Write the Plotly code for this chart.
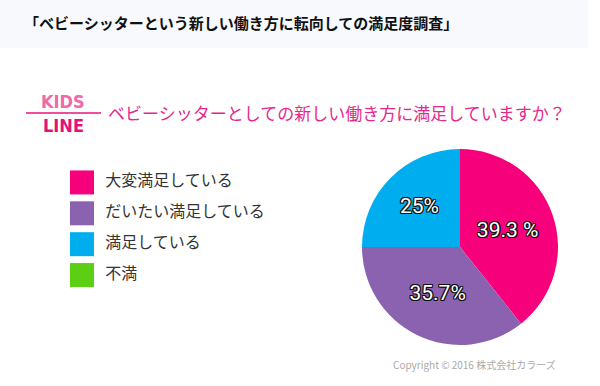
import plotly.graph_objects as go

W, H = 600, 386

title_text = "「ベビーシッターという新しい働き方に転向しての満足度調査」"
question_text = "ベビーシッターとしての新しい働き方に満足していますか？"
categories = ["大変満足している", "だいたい満足している", "満足している", "不満"]
values = [39.3, 35.7, 25.0, 0.0]
value_labels = ["39.3 %", "35.7%", "25%", ""]
colors = ["#f7007b", "#8a62b0", "#00aeef", "#5ccf14"]
copyright_text = "Copyright © 2016 株式会社カラーズ"

def px_x(x):
    return x / W

def px_y(y):
    return 1 - y / H

fig = go.Figure()

# Pie
fig.add_trace(go.Pie(
    labels=categories,
    values=values,
    text=value_labels,
    textinfo="text",
    sort=False,
    direction="clockwise",
    rotation=0,
    marker=dict(colors=colors, line=dict(width=0)),
    textposition="inside",
    insidetextorientation="horizontal",
    textfont=dict(
        family="Roboto, Noto Sans, sans-serif", size=21, color="white",
        shadow="1px 1px 0 #111, -1px -1px 0 #111, 1px -1px 0 #111, -1px 1px 0 #111, 0 1px 0 #111, 0 -1px 0 #111, 1px 0 0 #111, -1px 0 0 #111",
    ),
    domain=dict(x=[px_x(362), px_x(558)], y=[px_y(345), px_y(149)]),
    showlegend=False,
    hoverinfo="label+value",
))

# Legend drawn as a scatter trace
n = len(categories)
fig.add_trace(go.Scatter(
    x=[0] * n,
    y=list(range(n)),
    mode="markers+text",
    text=categories,
    texttemplate="\u00a0\u00a0%{text}",
    textposition="middle right",
    textfont=dict(family="Noto Sans CJK JP", size=16, color="#333333"),
    marker=dict(symbol="square", size=24, color=colors, line=dict(width=0)),
    xaxis="x", yaxis="y",
    showlegend=False,
    hoverinfo="skip",
    cliponaxis=False,
))

fig.update_layout(
    width=W, height=H,
    margin=dict(l=0, r=0, t=0, b=0),
    paper_bgcolor="white",
    plot_bgcolor="rgba(0,0,0,0)",
    xaxis=dict(domain=[0, 0.5], range=[-82, 218], visible=False, fixedrange=True),
    yaxis=dict(domain=[px_y(290.5), px_y(167)], range=[3.5, -0.5], visible=False, fixedrange=True),
    shapes=[
        dict(type="rect", xref="paper", yref="paper", x0=0, x1=px_x(588), y0=px_y(48), y1=1,
             fillcolor="#f7f9fc", line=dict(width=0), layer="below"),
        dict(type="line", xref="paper", yref="paper", x0=px_x(26), x1=px_x(101), y0=px_y(113), y1=px_y(113),
             line=dict(color="#ee4f9c", width=2)),
    ],
    annotations=[
        dict(text="<b>" + title_text + "</b>", xref="paper", yref="paper", x=px_x(22), y=px_y(23),
             xanchor="left", yanchor="middle", showarrow=False,
             font=dict(family="Noto Sans CJK JP", size=15, color="#111111")),
        dict(text=question_text, xref="paper", yref="paper", x=px_x(106), y=px_y(113),
             xanchor="left", yanchor="middle", showarrow=False,
             font=dict(family="Noto Sans CJK JP", size=17, color="#e6288a")),
        dict(text="<b>KIDS</b>", xref="paper", yref="paper", x=px_x(63), y=px_y(101),
             xanchor="center", yanchor="middle", showarrow=False,
             font=dict(family="DejaVu Sans Condensed, DejaVu Sans", size=18, color="#f06aaa")),
        dict(text="<b>LINE</b>", xref="paper", yref="paper", x=px_x(63), y=px_y(125),
             xanchor="center", yanchor="middle", showarrow=False,
             font=dict(family="DejaVu Sans Condensed, DejaVu Sans", size=18, color="#e3117c")),
        dict(text=copyright_text, xref="paper", yref="paper", x=px_x(558), y=px_y(364),
             xanchor="right", yanchor="middle", showarrow=False,
             font=dict(family="Noto Sans CJK JP", size=10, color="#aaaaaa")),
    ],
)

fig.write_html("out.html")
